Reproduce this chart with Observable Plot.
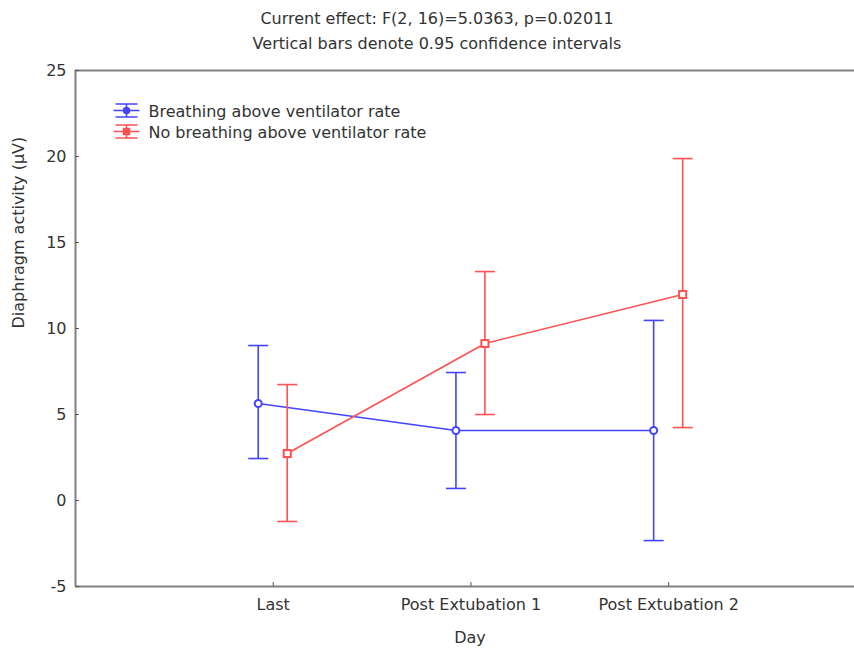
<!DOCTYPE html>
<html><head><meta charset="utf-8">
<script src="https://cdn.jsdelivr.net/npm/d3@7"></script>
<script src="https://cdn.jsdelivr.net/npm/@observablehq/plot@0.6"></script>
<style>body{margin:0;background:#fff} svg{display:block}</style>
</head><body><div id="chart"></div>
<script>
// ---- data ----
const days = ["Last", "Post Extubation 1", "Post Extubation 2"];
const dayPos = [1, 2, 3];
const seriesNames = ["Breathing above ventilator rate", "No breathing above ventilator rate"];
const blueMean = [5.64, 4.07, 4.07];
const blueLo   = [2.44, 0.70, -2.33];
const blueHi   = [9.01, 7.44, 10.47];
const redMean  = [2.73, 9.13, 11.98];
const redLo    = [-1.22, 5.00, 4.24];
const redHi    = [6.74, 13.31, 19.88];
const yTicks = [-5, 0, 5, 10, 15, 20, 25];
const titleLines = ["Current effect: F(2, 16)=5.0363, p=0.02011", "Vertical bars denote 0.95 confidence intervals"];
const xLabel = "Day";
const yLabel = "Diaphragm activity (\u00b5V)";

const blueC = "#4444ff";
const redC = "#ff5252";
const frameC = "#808080";

const mk = (mean, lo, hi) => dayPos.map((p, i) => ({pos: p, mean: mean[i], lo: lo[i], hi: hi[i]}));
const blue = mk(blueMean, blueLo, blueHi);
const red = mk(redMean, redLo, redHi);

const cap = {draw(ctx, size) { const r = Math.sqrt(size / Math.PI); ctx.moveTo(-r, 0); ctx.lineTo(r, 0); }};
const legendGlyph = {draw(ctx, size) {
  const r = Math.sqrt(size / Math.PI); // half width
  const h = r * 0.5;
  ctx.moveTo(-r + 2, -h); ctx.lineTo(r - 2, -h);
  ctx.moveTo(-r, 0); ctx.lineTo(r, 0);
  ctx.moveTo(-r + 2, h); ctx.lineTo(r - 2, h);
  ctx.moveTo(0, -h); ctx.lineTo(0, h);
}};

function seriesMarks(data, color, dx, symbol, r) {
  return [
    Plot.ruleX(data, {x: "pos", y1: "lo", y2: "hi", stroke: color, strokeWidth: 1.6, dx}),
    Plot.dot(data, {x: "pos", y: "lo", symbol: cap, r: 10, stroke: color, fill: "none", strokeWidth: 1.6, dx}),
    Plot.dot(data, {x: "pos", y: "hi", symbol: cap, r: 10, stroke: color, fill: "none", strokeWidth: 1.6, dx}),
    Plot.line(data, {x: "pos", y: "mean", stroke: color, strokeWidth: 1.6, dx}),
    Plot.dot(data, {x: "pos", y: "mean", symbol, r, stroke: color, fill: "white", strokeWidth: 2, dx})
  ];
}

function legendMarks(name, color, symbol, r, dy) {
  return [
    Plot.dot([name], {frameAnchor: "top-left", dx: 51, dy, symbol: legendGlyph, r: 13, stroke: color, fill: "none", strokeWidth: 1.6}),
    Plot.dot([name], {frameAnchor: "top-left", dx: 51, dy, symbol, r, stroke: color, fill: color, strokeWidth: 1.5}),
    Plot.text([name], {frameAnchor: "top-left", dx: 73, dy: dy + 1, text: d => d, textAnchor: "start", lineAnchor: "middle", fill: "#333", fontSize: 16})
  ];
}

const chart = Plot.plot({
  width: 854,
  height: 649,
  marginTop: 70,
  marginBottom: 63,
  marginLeft: 75,
  marginRight: 0,
  style: {fontFamily: "DejaVu Sans", fontSize: "16px", color: "#333", background: "#fff"},
  x: {type: "linear", domain: [0, 3.94], label: null},
  y: {type: "linear", domain: [-5, 25], label: null},
  marks: [
    Plot.ruleY([yTicks[0], yTicks[yTicks.length - 1]], {stroke: frameC, strokeWidth: 2}),
    Plot.ruleX([0], {stroke: frameC, strokeWidth: 2}),
    Plot.axisY(yTicks, {tickSize: -4, tickPadding: 13, stroke: "#555", tickFormat: d => String(d), label: null, fontSize: 16, fill: "#333"}),
    Plot.axisX(dayPos, {tickSize: -4, tickPadding: 16, stroke: "#555", tickFormat: i => days[i - 1], label: null, fontSize: 16, fill: "#333"}),
    ...seriesMarks(blue, blueC, -15, "circle", 3.5),
    ...seriesMarks(red, redC, 14, "square", 4),
    ...legendMarks(seriesNames[0], blueC, "circle", 3, 40),
    ...legendMarks(seriesNames[1], redC, "square", 3.4, 61),
    Plot.text([titleLines[0]], {frameAnchor: "top", dx: -28, dy: -52, text: d => d, lineAnchor: "middle", fill: "#333", fontSize: 16}),
    Plot.text([titleLines[1]], {frameAnchor: "top", dx: -28, dy: -27, text: d => d, lineAnchor: "middle", fill: "#333", fontSize: 16}),
    Plot.text([xLabel], {frameAnchor: "bottom", dx: 5, dy: 51, text: d => d, lineAnchor: "middle", fill: "#333", fontSize: 16}),
    Plot.text([yLabel], {frameAnchor: "left", dx: -57, text: d => d, rotate: -90, lineAnchor: "middle", fill: "#333", fontSize: 16})
  ]
});
document.getElementById("chart").appendChild(chart);
</script>
</body></html>
